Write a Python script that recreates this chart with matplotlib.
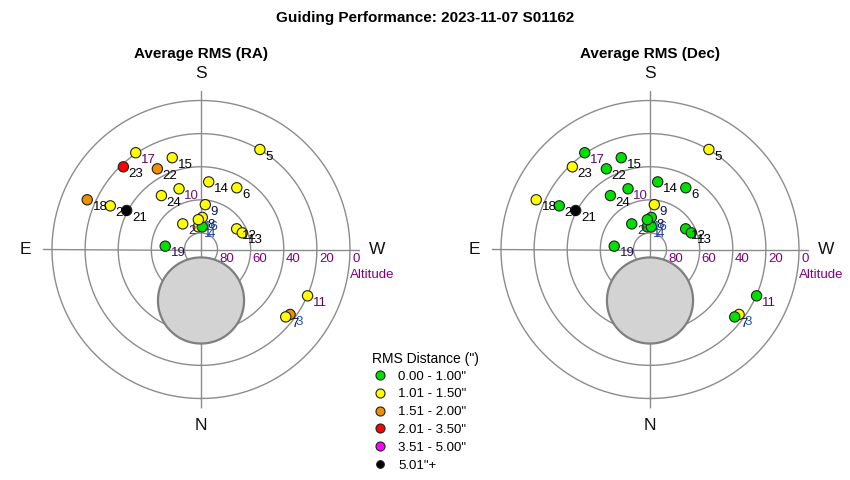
import numpy as np
import matplotlib
matplotlib.use("Agg")
import matplotlib.pyplot as plt
from matplotlib.lines import Line2D

plt.rcParams['font.family'] = ['Liberation Sans', 'DejaVu Sans']

# ---------------- data ----------------
labels = [1, 2, 3, 4, 5, 6, 7, 8, 9, 10, 11, 12, 13, 14, 15, 16, 17, 18, 19, 20, 21, 22, 23, 24]
altitude = [76.2, 71.0, 23.4, 76.3, 19.9, 46.9, 24.6, 70.6, 62.8, 51.0, 19.8, 65.1,
            63.1, 48.9, 31.9, 71.9, 19.5, 15.0, 68.3, 29.2, 39.3, 34.6, 21.5, 49.6]
azimuth = [173.2, 144.5, 306.1, 183.3, 210.5, 210.1, 308.5, 182.3, 185.5, 160.1, 293.5, 239.9,
           248.0, 186.5, 162.6, 174.9, 146.0, 113.6, 95.3, 115.7, 117.7, 151.6, 136.8, 143.7]
# RMS class index: 0 green, 1 yellow, 2 orange, 3 red, 4 magenta, 5 black
ra_class = [1, 1, 2, 0, 1, 1, 1, 1, 1, 1, 1, 1, 1, 1, 1, 1, 1, 2, 0, 1, 5, 2, 3, 1]
dec_class = [0, 0, 1, 0, 1, 0, 0, 0, 1, 0, 0, 0, 0, 0, 0, 0, 0, 1, 0, 0, 5, 0, 1, 0]
label_colors = ['#1a3a9a', '#3a1a6a', '#1a5aaa', '#1a3a9a', '#000000', '#000000', '#101040', '#101030',
                '#101050', '#6a1a6a', '#600060', '#000000', '#000000', '#000000', '#000000', '#1a4a9a',
                '#600060', '#000000', '#2a0a5a', '#000000', '#000000', '#000000', '#000000', '#000000']

class_colors = ['#00e000', '#ffff00', '#f09000', '#ff0000', '#ff00ff', '#000000']
class_names = ['0.00 - 1.00"', '1.01 - 1.50"', '1.51 - 2.00"', '2.01 - 3.50"', '3.51 - 5.00"', '5.01"+']

alt_rings = [80, 60, 40, 20, 0]
obstruction_alt = 59.2    # altitude of disc centre (towards N)
obstruction_radius = 26.0  # degrees

title = 'Guiding Performance: 2023-11-07 S01162'
panel_titles = ['Average RMS (RA)', 'Average RMS (Dec)']

# ---------------- figure ----------------
W, H = 850, 480
fig = plt.figure(figsize=(W / 100, H / 100), dpi=100)

RMAX = 96.0
R_PX = 149.0 * RMAX / 90.0
centers = [(201, 249.5), (650, 249.5)]

purple = '#800080'
gridc = '#8c8c8c'

def make_panel(cx, cy, classes, ptitle):
    ax = fig.add_axes([(cx - R_PX) / W, 1 - (cy + R_PX) / H, 2 * R_PX / W, 2 * R_PX / H],
                      projection='polar')
    ax.set_theta_zero_location('S')
    ax.set_theta_direction(-1)
    ax.set_ylim(0, RMAX)
    ax.axis('off')

    th = np.linspace(0, 2 * np.pi, 361)
    for a in alt_rings:
        ax.plot(th, np.full_like(th, 90 - a), color=gridc, lw=1.0, zorder=1)
    ext = 95.5
    for t in [0, np.pi / 2]:
        ax.plot([t, t], [0, ext], color=gridc, lw=1.0, zorder=1)
        ax.plot([t + np.pi, t + np.pi], [0, ext], color=gridc, lw=1.0, zorder=1)

    # obstruction disc (towards N)
    phi = np.linspace(0, 2 * np.pi, 300)
    d = 90 - obstruction_alt
    X = obstruction_radius * np.cos(phi)
    Y = -d + obstruction_radius * np.sin(phi)
    ang = np.arctan2(Y, X)
    rr = np.hypot(X, Y)
    theta = -np.pi / 2 - ang
    ax.fill(theta, rr, facecolor='#d3d3d3', edgecolor='#7f7f7f', lw=1.6, zorder=2)

    # altitude ring labels along West
    tw = np.radians(270)
    for a in alt_rings:
        ax.annotate(str(a), xy=(tw, 90 - a), xytext=(1.5, -6.5), textcoords='offset points',
                    ha='left', va='center', color=purple, fontsize=9.5, zorder=5)
    ax.annotate('Altitude', xy=(tw, 90), xytext=(15.8, -18.5), textcoords='offset points',
                ha='center', va='center', color=purple, fontsize=9.5)

    # cardinal points
    for name, az in [('N', 0), ('E', 90), ('S', 180), ('W', 270)]:
        ax.text(np.radians(az), 90 * 176 / 149, name, ha='center', va='center', fontsize=12.5,
                color='#111111')

    # points
    t = np.radians(azimuth)
    r = 90 - np.array(altitude)
    cols = [class_colors[c] for c in classes]
    ax.scatter(t, r, s=55, c=cols, edgecolors='#202020', linewidths=0.8, zorder=4, clip_on=False)
    for ti, ri, lab, lc in zip(t, r, labels, label_colors):
        ax.annotate(str(lab), xy=(ti, ri), xytext=(3.8, -5.2), textcoords='offset points',
                    ha='left', va='center', fontsize=9.5, color=lc, zorder=5)

    fig.text(cx / W, 1 - 54 / H, ptitle, ha='center', va='center', fontsize=11,
             fontweight='bold')
    return ax

make_panel(*centers[0], ra_class, panel_titles[0])
make_panel(*centers[1], dec_class, panel_titles[1])

fig.text(425 / W, 1 - 18 / H, title, ha='center', va='center', fontsize=11, fontweight='bold')

handles = [Line2D([], [], ls='none', marker='o', markersize=6.5 if i < 5 else 5.5,
                  markerfacecolor=c, markeredgecolor='#202020', markeredgewidth=0.8)
           for i, c in enumerate(class_colors)]
leg = fig.legend(handles, class_names, loc='upper left', bbox_to_anchor=(363 / W, 1 - 343 / H),
                 frameon=False, fontsize=9.5, title='RMS Distance (")', title_fontsize=10,
                 labelspacing=0.42, handletextpad=0.75, handlelength=1.2, borderpad=0.2)
leg._legend_box.align = 'left'
leg._legend_box.sep = 3

fig.savefig('out.png', dpi=100)
